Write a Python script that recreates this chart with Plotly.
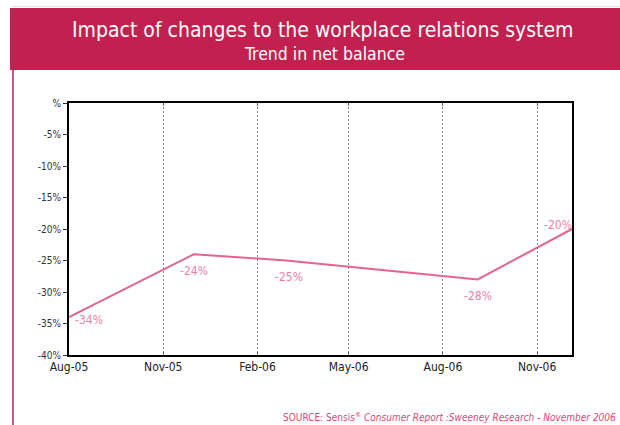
import plotly.graph_objects as go

# Survey waves and net balance (%)
waves = ["2005-08-01", "2005-12-01", "2006-03-01", "2006-09-04", "2006-12-05"]
net_balance = [-34, -24, -25, -28, -20]
tick_dates = ["2005-08-01", "2005-11-01", "2006-02-01", "2006-05-01", "2006-08-01", "2006-11-01"]
tick_text = ["Aug-05", "Nov-05", "Feb-06", "May-06", "Aug-06", "Nov-06"]
y_ticks = [0, -5, -10, -15, -20, -25, -30, -35, -40]
y_tick_text = ["%" if v == 0 else f"{v}%" for v in y_ticks]

# label offsets (pixels) for each point's value text
label_shift = [(20, -3), (0, -17), (3, -16), (0, -17), (-14, 4)]

CRIMSON = "#C2204F"
LINE = "#E4648E"
LABEL = "#EC7FA3"
COND = "DejaVu Sans Condensed, Roboto, sans-serif"


def cfont(size, color):
    return dict(family=COND, size=size, color=color)


fig = go.Figure()
fig.add_trace(go.Scatter(
    x=waves, y=net_balance, mode="lines",
    line=dict(color=LINE, width=2), hoverinfo="skip", showlegend=False,
))

for d, v, (dx, dy) in zip(waves, net_balance, label_shift):
    fig.add_annotation(
        x=d, y=v, xref="x", yref="y", text=f"{v}%", showarrow=False,
        xshift=dx, yshift=dy, font=cfont(12, LABEL),
    )

# faint rule above the header
fig.add_shape(type="line", xref="paper", yref="paper",
              x0=-57 / 503, x1=1.2, y0=1 + 96.5 / 252, y1=1 + 96.5 / 252,
              line=dict(color="#E6E0E2", width=1))
# header band
fig.add_shape(type="rect", xref="paper", yref="paper",
              x0=-59 / 503, x1=1.2, y0=1 + 33 / 252, y1=1 + 95 / 252,
              fillcolor=CRIMSON, line_width=0, layer="below")
# left rule
fig.add_shape(type="line", xref="paper", yref="paper",
              x0=-56 / 503, x1=-56 / 503, y0=-75 / 252, y1=1 + 33 / 252,
              line=dict(color=CRIMSON, width=1.5))

fig.add_annotation(xref="paper", yref="paper", x=(323 - 69) / 503, y=1 + 73 / 252,
                   text="Impact of changes to the workplace relations system",
                   showarrow=False, yanchor="middle", font=cfont(21, "white"))
fig.add_annotation(xref="paper", yref="paper", x=(324 - 69) / 503, y=1 + 49 / 252,
                   text="Trend in net balance", showarrow=False, yanchor="middle",
                   font=cfont(17.5, "white"))
fig.add_annotation(xref="paper", yref="paper", x=(618 - 69) / 503, y=-70 / 252,
                   xanchor="right", yanchor="bottom", showarrow=False,
                   text="SOURCE: Sensis<sup>®</sup> <i>Consumer Report :Sweeney Research - November 2006</i>",
                   font=cfont(10, "#D9487A"))

fig.update_layout(
    width=620, height=425,
    margin=dict(l=69, r=48, t=103, b=70),
    paper_bgcolor="white", plot_bgcolor="white",
    xaxis=dict(
        type="date", range=["2005-08-01", "2006-12-05"],
        tickvals=tick_dates, ticktext=tick_text,
        showgrid=True, gridcolor="#8A8A8A", griddash="2px,2px", gridwidth=1,
        showline=True, linecolor="black", linewidth=2, mirror="ticks",
        ticks="inside", ticklen=3, tickcolor="#666666",
        tickfont=cfont(12, "#222222"),
    ),
    yaxis=dict(
        range=[-40, 0], tickvals=y_ticks, ticktext=y_tick_text,
        showgrid=False, zeroline=False,
        showline=True, linecolor="black", linewidth=2, mirror=True,
        ticks="outside", ticklen=4, tickcolor="#333333",
        tickfont=cfont(10, "#333333"),
    ),
)

fig.write_html("out.html")
